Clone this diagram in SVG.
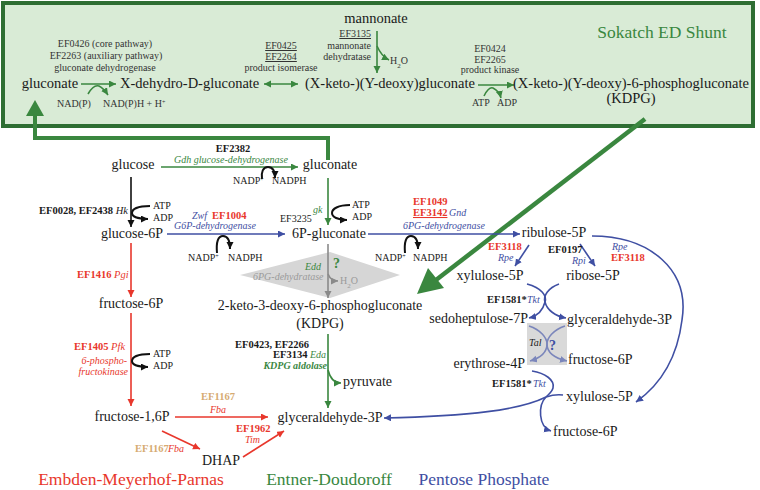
<svg xmlns="http://www.w3.org/2000/svg" width="760" height="490" viewBox="0 0 760 490">
<defs>
<style>
text{font-family:"Liberation Serif","Times New Roman",serif;fill:#1a1a1a}
.n{font-size:14px}
.t{font-size:14.5px}
.big{font-size:17.5px}
.s{font-size:10px;fill:#333}
.c{font-size:10px}
.b{font-size:10.5px;font-weight:bold}
.i{font-size:10px;font-style:italic}
.red{fill:#e8372c}
.grn{fill:#3a873f}
.blu{fill:#3f4fa3}
.tan{fill:#d6ab72}
.gry{fill:#9a9a9a}
.m{text-anchor:middle}
.e{text-anchor:end}
.u{text-decoration:underline}
.ln{fill:none;stroke-width:1.6}
.lg{stroke:#3a873f}
.lk{stroke:#111}
.lb{stroke:#3f4fa3}
.lr{stroke:#e8372c}
.lgy{stroke:#8a8a8a}
.cv{fill:none;stroke-width:2}
</style>
<marker id="ag" markerUnits="userSpaceOnUse" markerWidth="8" markerHeight="8" refX="7" refY="3.5" orient="auto-start-reverse"><path d="M0,0 L7,3.5 L0,7 z" fill="#3a873f"/></marker>
<marker id="ak" markerUnits="userSpaceOnUse" markerWidth="8" markerHeight="8" refX="7" refY="3.5" orient="auto"><path d="M0,0 L7,3.5 L0,7 z" fill="#111"/></marker>
<marker id="ab" markerUnits="userSpaceOnUse" markerWidth="8" markerHeight="8" refX="7" refY="3.5" orient="auto"><path d="M0,0 L7,3.5 L0,7 z" fill="#3f4fa3"/></marker>
<marker id="ar" markerUnits="userSpaceOnUse" markerWidth="8" markerHeight="8" refX="7" refY="3.5" orient="auto"><path d="M0,0 L7,3.5 L0,7 z" fill="#e8372c"/></marker>
<marker id="ay" markerUnits="userSpaceOnUse" markerWidth="8" markerHeight="8" refX="7" refY="3.5" orient="auto"><path d="M0,0 L7,3.5 L0,7 z" fill="#8a8a8a"/></marker>
<marker id="at" markerUnits="userSpaceOnUse" markerWidth="8" markerHeight="8" refX="7" refY="3.5" orient="auto"><path d="M0,0 L7,3.5 L0,7 z" fill="#7b86bb"/></marker>
</defs>

<!-- Sokatch ED shunt box -->
<g id="sokatch-box">
<rect x="3" y="3" width="750" height="123" fill="#d9ebd6" stroke="#2e6e33" stroke-width="4"/>
<text class="big grn m" x="662" y="38">Sokatch ED Shunt</text>
</g>

<g id="tal-box"><rect x="527" y="323" width="40" height="42" fill="#d9d9d9"/></g>
<g id="edd-diamond"><polygon points="240,275 330,252 400,275 330,298" fill="#d6d6d6"/></g>

<!-- connectors -->
<g id="connectors">
<!-- top box -->
<line class="ln lg" x1="81" y1="84" x2="116" y2="84" marker-end="url(#ag)"/>
<path class="ln lg" d="M88,94 C92,87 96,85 99,86 C103,88 106,92 108,95" marker-end="url(#ag)"/>
<line class="ln lg" x1="264" y1="84" x2="298" y2="84" marker-start="url(#ag)" marker-end="url(#ag)"/>
<line class="ln lg" x1="377" y1="31" x2="377" y2="73" marker-end="url(#ag)"/>
<path class="ln lg" d="M377,46 C380,53 383,57 389,60" marker-end="url(#ag)"/>
<line class="ln lg" x1="478" y1="85" x2="514" y2="85" marker-end="url(#ag)"/>
<path class="ln lg" d="M484,96 C487,90 490,87 493,88 C497,90 500,94 501,98" marker-end="url(#ag)"/>
<!-- big green -->
<polyline points="328,160 328,138 35,138 35,114" fill="none" stroke="#3a873f" stroke-width="4"/>
<polygon points="35,100 26,116 44,116" fill="#3a873f"/>
<line x1="645" y1="119" x2="436" y2="280" stroke="#3a873f" stroke-width="4.5"/>
<polygon points="417,294 444,288 428,268" fill="#3a873f"/>
<!-- glycolysis -->
<line class="ln lk" x1="131" y1="177" x2="131" y2="227" marker-end="url(#ak)"/>
<path class="cv lk" d="M150,206 C138,206 132,209 132,213 C132,217 139,219 148,219" marker-end="url(#ak)"/>
<line class="ln lr" x1="131" y1="243" x2="131" y2="297" marker-end="url(#ar)"/>
<line class="ln lr" x1="131" y1="313" x2="131" y2="406" marker-end="url(#ar)"/>
<path class="cv lk" d="M150,354 C138,354 132,357 132,361 C132,365 139,367 148,367" marker-end="url(#ak)"/>
<line class="ln lr" x1="175" y1="417" x2="268" y2="417" marker-end="url(#ar)"/>
<line class="ln lr" x1="162" y1="431" x2="200" y2="449" marker-end="url(#ar)"/>
<line class="ln lr" x1="243" y1="457" x2="284" y2="431" marker-end="url(#ar)"/>
<!-- ED -->
<line class="ln lg" x1="161" y1="167" x2="298" y2="167" marker-end="url(#ag)"/>
<path class="cv lk" d="M262,179 C261,172 263,167 268,167 C273,167 275,172 275,178" marker-end="url(#ak)"/>
<line class="ln lg" x1="328" y1="178" x2="328" y2="225" marker-end="url(#ag)"/>
<path class="cv lk" d="M350,205 C338,205 332,209 332,213 C332,217 338,220 347,220" marker-end="url(#ak)"/>
<line class="ln lgy" x1="328" y1="244" x2="328" y2="298" marker-end="url(#ay)"/>
<path class="ln lgy" d="M328,274 C330,279 333,281 338,281" marker-end="url(#ay)"/>
<line class="ln lg" x1="328" y1="334" x2="328" y2="408" marker-end="url(#ag)"/>
<path class="ln lg" d="M328,370 C330,378 334,383 341,383" marker-end="url(#ag)"/>
<!-- PPP -->
<line class="ln lb" x1="167" y1="234" x2="285" y2="234" marker-end="url(#ab)"/>
<path class="cv lk" d="M217,253 C216,242 218,236 223,236 C228,236 230,242 230,249" marker-end="url(#ak)"/>
<line class="ln lb" x1="368" y1="234" x2="520" y2="234" marker-end="url(#ab)"/>
<path class="cv lk" d="M405,253 C404,242 406,236 411,236 C416,236 418,242 418,249" marker-end="url(#ak)"/>
<line class="ln lb" x1="529" y1="245" x2="515" y2="266" marker-end="url(#ab)"/>
<line class="ln lb" x1="580" y1="244" x2="595" y2="266" marker-end="url(#ab)"/>
<path class="ln lb" d="M592,236 C650,236 690,270 682,320 C677,360 660,385 636,402" marker-end="url(#ab)"/>
<path class="ln lb" d="M527,284 C542,288 547,296 545,302 C543,310 538,316 529,318" marker-end="url(#ab)"/>
<path class="ln lb" d="M559,284 C548,288 543,296 545,302 C547,310 555,316 566,318" marker-end="url(#ab)"/>
<path class="ln" stroke="#7b86bb" d="M529,326 C541,330 547,338 547,344 C547,352 540,358 530,361" marker-end="url(#at)"/>
<path class="ln" stroke="#7b86bb" d="M565,326 C553,330 547,338 547,344 C547,352 554,358 567,361" marker-end="url(#at)"/>
<path class="ln lb" d="M532,371 C545,373 555,380 553,388 C552,392 549,394 546,397"/>
<path class="ln lb" d="M563,395 C555,394 549,396 546,397"/>
<path class="ln lb" d="M546,397 C538,405 538,427 551,431" marker-end="url(#ab)"/>
<path class="ln lb" d="M546,397 C520,410 470,416 384,418" marker-end="url(#ab)"/>
</g>

<!-- top box nodes -->
<g id="n-gluconate-top"><text class="t m" x="50" y="88">gluconate</text></g>
<g id="n-dehydro"><text class="t" x="120" y="88">X-dehydro-D-gluconate</text></g>
<g id="n-ketodeoxy"><text class="t" x="305" y="88">(X-keto-)(Y-deoxy)gluconate</text></g>
<g id="n-mannonate"><text class="t m" x="376" y="23">mannonate</text></g>
<g id="n-kdpg-top"><text class="t m" x="631" y="88">(X-keto-)(Y-deoxy)-6-phosphogluconate</text><text class="t m" x="631" y="103">(KDPG)</text></g>
<g id="l-top">
<text class="s m" x="105" y="47">EF0426 (core pathway)</text>
<text class="s m" x="106" y="59">EF2263 (auxiliary pathway)</text>
<text class="s m" x="105" y="71">gluconate dehydrogenase</text>
<text class="s" x="57" y="107">NAD(P)</text>
<text class="s" x="103" y="107">NAD(P)H + H<tspan font-size="6" baseline-shift="super">+</tspan></text>
<text class="s m u" x="281" y="49">EF0425</text>
<text class="s m u" x="281" y="60">EF2264</text>
<text class="s m" x="281" y="71">product isomerase</text>
<text class="s e u" x="371" y="37">EF3135</text>
<text class="s e" x="371" y="49">mannonate</text>
<text class="s e" x="371" y="60">dehydratase</text>
<text class="s" x="390" y="64">H<tspan font-size="7" baseline-shift="sub">2</tspan>O</text>
<text class="s m" x="490" y="52">EF0424</text>
<text class="s m" x="490" y="63">EF2265</text>
<text class="s m" x="490" y="73">product kinase</text>
<text class="s" x="472" y="106">ATP</text>
<text class="s" x="497" y="106">ADP</text>
</g>

<!-- main nodes -->
<g id="n-glucose"><text class="n m" x="133" y="169">glucose</text></g>
<g id="n-glucose6p"><text class="n m" x="132" y="238">glucose-6P</text></g>
<g id="n-fructose6p"><text class="n m" x="131" y="308">fructose-6P</text></g>
<g id="n-fructose16p"><text class="n m" x="132" y="421">fructose-1,6P</text></g>
<g id="n-dhap"><text class="n m" x="221" y="465">DHAP</text></g>
<g id="n-gluconate"><text class="n m" x="330" y="169">gluconate</text></g>
<g id="n-6pgluconate"><text class="n m" x="329" y="238">6P-gluconate</text></g>
<g id="n-kdpg"><text class="n m" x="320" y="310">2-keto-3-deoxy-6-phosphogluconate</text><text class="n m" x="320" y="328">(KDPG)</text></g>
<g id="n-pyruvate"><text class="n" x="343" y="386">pyruvate</text></g>
<g id="n-gap"><text class="n m" x="330" y="422">glyceraldehyde-3P</text></g>
<g id="n-ribulose5p"><text class="n m" x="554" y="237">ribulose-5P</text></g>
<g id="n-xylulose5p"><text class="n m" x="490" y="280">xylulose-5P</text></g>
<g id="n-ribose5p"><text class="n m" x="593" y="280">ribose-5P</text></g>
<g id="n-sedoheptulose7p"><text class="n e" x="528" y="323">sedoheptulose-7P</text></g>
<g id="n-gap-r"><text class="n" x="567" y="324">glyceraldehyde-3P</text></g>
<g id="n-erythrose4p"><text class="n e" x="525" y="368">erythrose-4P</text></g>
<g id="n-fructose6p-r"><text class="n" x="568" y="364">fructose-6P</text></g>
<g id="n-xylulose5p-r"><text class="n" x="566" y="401">xylulose-5P</text></g>
<g id="n-fructose6p-r2"><text class="n" x="553" y="436">fructose-6P</text></g>

<!-- pathway titles -->
<g id="title-emp"><text class="big red m" x="131" y="485">Embden-Meyerhof-Parnas</text></g>
<g id="title-ed"><text class="big grn m" x="329" y="485">Entner-Doudoroff</text></g>
<g id="title-ppp"><text class="big blu m" x="484" y="485">Pentose Phosphate</text></g>

<!-- enzyme labels -->
<g id="labels">
<text class="b m" x="233" y="152">EF2382</text>
<text class="i grn m" x="231" y="163">Gdh glucose-dehydrogenase</text>
<text class="c" x="233" y="184">NADP<tspan font-size="6" baseline-shift="super">+</tspan></text>
<text class="c" x="272" y="184">NADPH</text>
<text class="b" x="39" y="214">EF0028, EF2438 <tspan font-style="italic" font-weight="normal">Hk</tspan></text>
<text class="c" x="153" y="209">ATP</text>
<text class="c" x="153" y="221">ADP</text>
<text class="i blu" x="192" y="219">Zwf</text>
<text class="b red" x="212" y="219">EF1004</text>
<text class="i blu" x="174" y="229">G6P-dehydrogenase</text>
<text class="c" x="188" y="261">NADP<tspan font-size="6" baseline-shift="super">+</tspan></text>
<text class="c" x="228" y="261">NADPH</text>
<text class="c" x="280" y="222">EF3235</text>
<text class="i grn" x="313" y="213">gk</text>
<text class="c" x="352" y="208">ATP</text>
<text class="c" x="352" y="220">ADP</text>
<text class="b red" x="413" y="205">EF1049</text>
<text class="b red u" x="413" y="216">EF3142</text>
<text class="i blu" x="449" y="216">Gnd</text>
<text class="i blu" x="403" y="229">6PG-dehydrogenase</text>
<text class="c" x="375" y="261">NADP<tspan font-size="6" baseline-shift="super">+</tspan></text>
<text class="c" x="413" y="261">NADPH</text>
<text class="i grn" x="305" y="270">Edd</text>
<text class="i gry" x="253" y="280">6PG-dehydratase</text>
<text class="grn" x="333" y="268" font-size="14" font-weight="bold">?</text>
<text class="c gry" x="340" y="284">H<tspan font-size="7" baseline-shift="sub">2</tspan>O</text>
<text class="b red" x="77" y="278">EF1416 <tspan font-style="italic" font-weight="normal">Pgi</tspan></text>
<text class="b red" x="74" y="350">EF1405 <tspan font-style="italic" font-weight="normal">Pfk</tspan></text>
<text class="i red e" x="127" y="364">6-phospho-</text>
<text class="i red e" x="128" y="375">fructokinase</text>
<text class="c" x="153" y="357">ATP</text>
<text class="c" x="153" y="369">ADP</text>
<text class="b tan m" x="218" y="400">EF1167</text>
<text class="i red m" x="218" y="413">Fba</text>
<text class="b tan" x="135" y="452">EF1167</text>
<text class="i red" x="168" y="452">Fba</text>
<text class="b red" x="236" y="432">EF1962</text>
<text class="i red" x="245" y="443">Tim</text>
<text class="b" x="235" y="348">EF0423, EF2266</text>
<text class="b" x="273" y="358">EF3134</text>
<text class="i grn" x="310" y="358">Eda</text>
<text class="i grn e" x="327" y="369" font-weight="bold">KDPG aldolase</text>
<text class="b red" x="488" y="250">EF3118</text>
<text class="i blu" x="498" y="261">Rpe</text>
<text class="b" x="548" y="253">EF0197</text>
<text class="i blu" x="572" y="264">Rpi</text>
<text class="i blu" x="612" y="250">Rpe</text>
<text class="b red" x="611" y="261">EF3118</text>
<text class="b" x="487" y="303">EF1581*</text>
<text class="i blu" x="527" y="303">Tkt</text>
<text class="i" x="529" y="346" fill="#7b86bb">Tal</text>
<text class="blu" x="549" y="350" font-size="14" font-weight="bold">?</text>
<text class="b" x="492" y="387">EF1581*</text>
<text class="i blu" x="533" y="387">Tkt</text>
</g>
</svg>
